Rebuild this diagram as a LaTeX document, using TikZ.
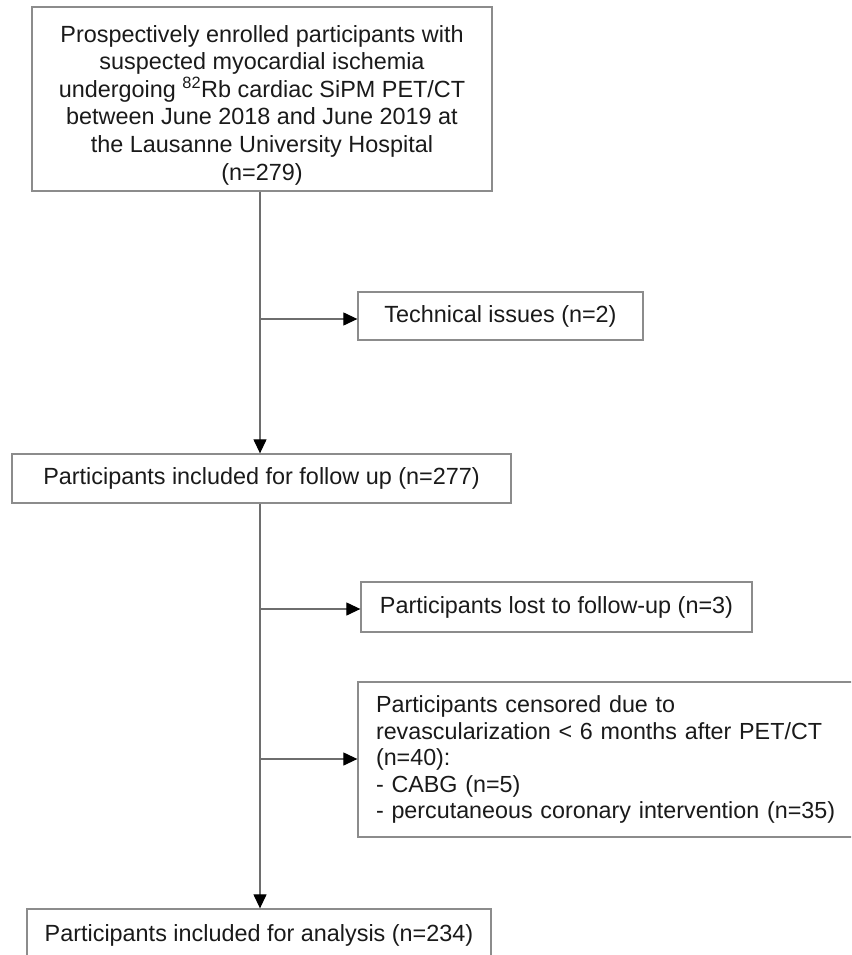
\documentclass[tikz,border=0pt]{standalone}
\usepackage{fontspec}
\setmainfont{Liberation Sans}
\usetikzlibrary{arrows.meta}
\definecolor{boxline}{HTML}{8C8C8C}
\definecolor{conn}{HTML}{6E6E6E}
\definecolor{txt}{HTML}{1A1A1A}
\begin{document}
\begin{tikzpicture}[x=1pt,y=-1pt,
  box/.style={draw=boxline, line width=1.3pt, fill=white, text=txt, inner sep=0pt,
    font=\fontsize{23.4}{27.6}\selectfont},
  conn/.style={draw=conn, line width=1.2pt, -{Triangle[length=14pt,width=13pt,fill=black,color=black]}}]
\useasboundingbox (0,0) rectangle (851,955);
\clip (0,0) rectangle (851,955);
\node[box, minimum width=460pt, minimum height=184pt] (top) at (262,99) {};
\node[text=txt, align=center, inner sep=0pt, font=\fontsize{23.4}{27.6}\selectfont] (toptext) at (262,105)
  {Prospectively enrolled participants with\\suspected myocardial ischemia\\undergoing \textsuperscript{82}Rb cardiac SiPM PET/CT\\between June 2018 and June 2019 at\\the Lausanne University Hospital\\(n=279)};
\node[box, minimum width=285pt, minimum height=48pt] (tech) at (500.5,316) {Technical issues (n=2)};
\node[box, minimum width=499pt, minimum height=49pt] (follow) at (261.5,478.5) {Participants included for follow up (n=277)};
\node[box, minimum width=391pt, minimum height=50pt] (lost) at (556.5,607) {Participants lost to follow-up (n=3)};
\node[box, minimum width=502pt, minimum height=155pt, text width=466pt, inner xsep=18pt, align=left,
  font=\fontsize{23.3}{26.5}\selectfont] (cens) at (609,759.5)
  {Participants censored due to\\revascularization {<} 6 months after PET/CT\\(n=40):\\- CABG (n=5)\\- percutaneous coronary intervention (n=35)};
\node[box, minimum width=464pt, minimum height=52pt] (final) at (259,935) {Participants included for analysis (n=234)};
\coordinate (j1) at (260,319);
\coordinate (j2) at (260,609);
\coordinate (j3) at (260,759);
\draw[conn] (top.south -| j1) -- (follow.north -| j1);
\draw[conn] (follow.south -| j1) -- (final.north -| j1);
\draw[conn] (j1) -- (j1 -| tech.west);
\draw[conn] (j2) -- (j2 -| lost.west);
\draw[conn] (j3) -- (j3 -| cens.west);
\end{tikzpicture}
\end{document}
